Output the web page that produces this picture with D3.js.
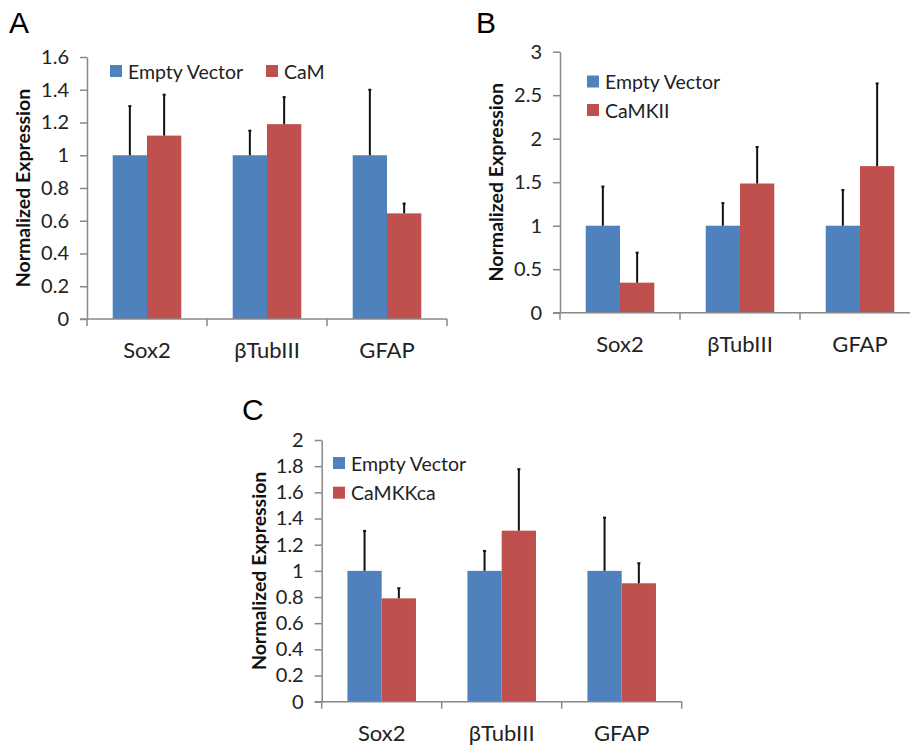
<!DOCTYPE html>
<html>
<head>
<meta charset="utf-8">
<script src="https://cdn.jsdelivr.net/npm/d3@7"></script>
<style>
  body { margin: 0; background: #fff; }
  svg { display: block; font-family: Lato, "Open Sans", sans-serif; }
</style>
</head>
<body>
<svg id="fig" width="910" height="746"></svg>
<script>
// Data
const categories = ["Sox2", "βTubIII", "GFAP"];
const series = ["Empty Vector", "Treatment"];

// Panel A: CaM
const camLabels = ["Empty Vector", "CaM"];
const camEmpty = [1.0, 1.0, 1.0];
const camEmptyErr = [0.30, 0.15, 0.40];
const camTreat = [1.12, 1.19, 0.645];
const camTreatErr = [0.25, 0.165, 0.06];
const camTicks = [0, 0.2, 0.4, 0.6, 0.8, 1, 1.2, 1.4, 1.6];

// Panel B: CaMKII
const camkiiLabels = ["Empty Vector", "CaMKII"];
const camkiiEmpty = [1.0, 1.0, 1.0];
const camkiiEmptyErr = [0.45, 0.26, 0.41];
const camkiiTreat = [0.345, 1.485, 1.685];
const camkiiTreatErr = [0.345, 0.42, 0.95];
const camkiiTicks = [0, 0.5, 1, 1.5, 2, 2.5, 3];

// Panel C: CaMKKca
const camkkLabels = ["Empty Vector", "CaMKKca"];
const camkkEmpty = [1.0, 1.0, 1.0];
const camkkEmptyErr = [0.305, 0.152, 0.407];
const camkkTreat = [0.79, 1.307, 0.905];
const camkkTreatErr = [0.077, 0.47, 0.153];
const camkkTicks = [0, 0.2, 0.4, 0.6, 0.8, 1, 1.2, 1.4, 1.6, 1.8, 2];

const colors = ["#4F81BD", "#C0504D"];
const axisColor = "#888";

const svg = d3.select("#fig");

function drawPanel(p) {
    const g = svg.append("g");

    const y = d3.scaleLinear()
        .domain([0, d3.max(p.ticks)])
        .range([p.y0, p.yTop]);

    const x = d3.scaleBand()
        .domain(categories)
        .range([p.x0, p.x0 + 360])
        .padding(0);

    const xs = d3.scaleBand()
        .domain(series)
        .range([0, x.bandwidth()])
        .paddingInner(0)
        .paddingOuter(0.75);

    // y axis
    const yAxis = d3.axisLeft(y)
        .tickValues(p.ticks)
        .tickFormat(d => d3.format("")(d))
        .tickSize(7)
        .tickSizeOuter(0)
        .tickPadding(11);
    const ya = g.append("g")
        .attr("transform", `translate(${p.x0},0)`)
        .call(yAxis);
    ya.select(".domain").attr("stroke", axisColor).attr("stroke-width", 1.5);
    ya.selectAll(".tick line").attr("stroke", axisColor).attr("stroke-width", 1.5);
    ya.selectAll(".tick text")
        .attr("fill", "#222")
        .style("font-size", "20px")
        .style("font-family", "Lato, sans-serif");

    // bars
    const rows = categories.map((c, i) => ({
        cat: c,
        vals: [
            { s: series[0], v: p.empty[i], e: p.emptyErr[i] },
            { s: series[1], v: p.treat[i], e: p.treatErr[i] }
        ]
    }));

    const grp = g.selectAll(".grp")
        .data(rows)
        .join("g")
        .attr("transform", d => `translate(${x(d.cat)},0)`);

    grp.selectAll("rect")
        .data(d => d.vals)
        .join("rect")
        .attr("x", d => xs(d.s))
        .attr("y", d => y(d.v))
        .attr("width", xs.bandwidth())
        .attr("height", d => p.y0 - y(d.v))
        .attr("fill", (d, i) => colors[i]);

    // error bars (upper only)
    grp.selectAll("line.err")
        .data(d => d.vals)
        .join("line")
        .attr("class", "err")
        .attr("x1", d => xs(d.s) + xs.bandwidth() / 2)
        .attr("x2", d => xs(d.s) + xs.bandwidth() / 2)
        .attr("y1", d => y(d.v))
        .attr("y2", d => y(d.v + d.e))
        .attr("stroke", "#111")
        .attr("stroke-width", 2);
    grp.selectAll("line.cap")
        .data(d => d.vals)
        .join("line")
        .attr("class", "cap")
        .attr("x1", d => xs(d.s) + xs.bandwidth() / 2 - 1.5)
        .attr("x2", d => xs(d.s) + xs.bandwidth() / 2 + 1.5)
        .attr("y1", d => y(d.v + d.e))
        .attr("y2", d => y(d.v + d.e))
        .attr("stroke", "#111")
        .attr("stroke-width", 2);

    // x axis line and boundary ticks
    g.append("line")
        .attr("x1", p.x0 - 7).attr("x2", x.range()[1])
        .attr("y1", p.y0).attr("y2", p.y0)
        .attr("stroke", axisColor).attr("stroke-width", 1.5);
    const bounds = categories.map(c => x(c)).concat([x.range()[1]]);
    g.selectAll(".xtick")
        .data(bounds)
        .join("line")
        .attr("x1", d => d).attr("x2", d => d)
        .attr("y1", p.y0).attr("y2", p.y0 + 7)
        .attr("stroke", axisColor).attr("stroke-width", 1.5);

    g.selectAll(".xlab")
        .data(categories)
        .join("text")
        .attr("x", d => x(d) + x.bandwidth() / 2)
        .attr("y", p.y0 + 39)
        .attr("text-anchor", "middle")
        .style("font-size", "22px")
        .attr("fill", "#222")
        .text(d => d);

    // y axis title
    g.append("text")
        .attr("transform", `translate(${p.titleX},${(p.y0 + p.yTop) / 2}) rotate(-90)`)
        .attr("text-anchor", "middle")
        .attr("dominant-baseline", "central")
        .style("font-size", "19.5px")
        .style("font-weight", "bold")
        .attr("fill", "#111")
        .text("Normalized Expression");

    // legend
    const leg = g.selectAll(".leg")
        .data(p.legend)
        .join("g")
        .attr("transform", (d, i) => `translate(${p.legX + i * p.legDx},${p.legY + i * p.legDy})`);
    leg.append("rect")
        .attr("x", 0).attr("y", -6)
        .attr("width", 12).attr("height", 12)
        .attr("fill", (d, i) => colors[i]);
    leg.append("text")
        .attr("x", 18).attr("y", 0)
        .attr("dominant-baseline", "central")
        .style("font-size", "19.5px")
        .attr("fill", "#222")
        .text(d => d);

    // panel letter
    svg.append("text")
        .attr("x", p.letterX).attr("y", p.letterY)
        .style("font-size", "30px")
        .style("font-family", "Liberation Sans, Arial, sans-serif")
        .attr("fill", "#000")
        .text(p.letter);
}

drawPanel({
    letter: "A", letterX: 9, letterY: 33,
    x0: 87, y0: 319, yTop: 57, titleX: 22,
    ticks: camTicks, empty: camEmpty, emptyErr: camEmptyErr,
    treat: camTreat, treatErr: camTreatErr,
    legend: camLabels, legX: 110, legY: 71, legDx: 156, legDy: 0
});

drawPanel({
    letter: "B", letterX: 476, letterY: 33,
    x0: 560, y0: 312.7, yTop: 51.7, titleX: 495,
    ticks: camkiiTicks, empty: camkiiEmpty, emptyErr: camkiiEmptyErr,
    treat: camkiiTreat, treatErr: camkiiTreatErr,
    legend: camkiiLabels, legX: 587, legY: 81.5, legDx: 0, legDy: 28.5
});

drawPanel({
    letter: "C", letterX: 242, letterY: 420,
    x0: 321.7, y0: 701.7, yTop: 440, titleX: 258,
    ticks: camkkTicks, empty: camkkEmpty, emptyErr: camkkEmptyErr,
    treat: camkkTreat, treatErr: camkkTreatErr,
    legend: camkkLabels, legX: 333, legY: 463, legDx: 0, legDy: 29.7
});
</script>
</body>
</html>
